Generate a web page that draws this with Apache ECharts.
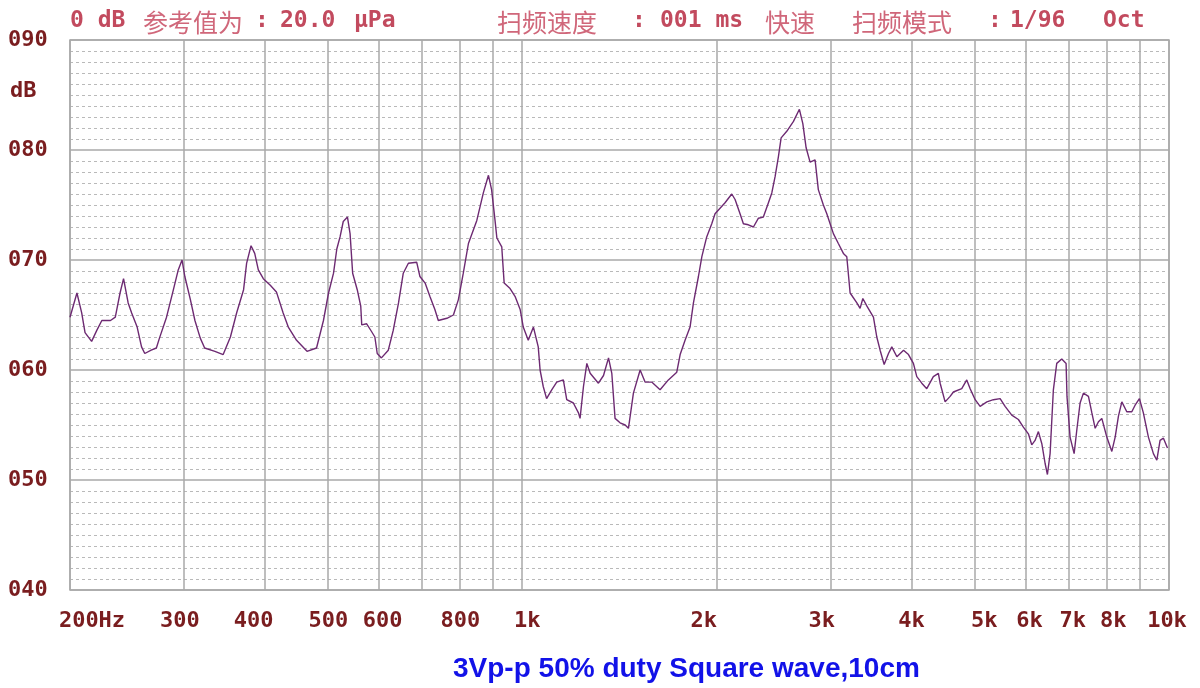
<!DOCTYPE html>
<html><head><meta charset="utf-8">
<script src="https://cdn.jsdelivr.net/npm/echarts@6/dist/echarts.min.js"></script>
<style>html,body{margin:0;padding:0;background:#fff}#c{width:1200px;height:688px}</style>
</head><body><div id="c"></div>
<script>
// ---- data ----
const freqs = [200,205,208.5,211,216,220,224,231,235,239,242,246,249,254,258,261,267,272,275,282,289,294,298,301,307,312,318,323,335,345,354,362,371,375,381,386,391,398,408,417,427,435,448,465,481,493,502,511,517,523,529,537,542,547,556,563,565,575,585,592,597,606,621,632,644,655,667,687,695,708,720,733,742,765,783,797,811,826,851,871,887,897,908,914,930,938,958,975,993,1004,1010,1022,1041,1059,1066,1078,1091,1111,1131,1158,1172,1200,1222,1229,1244,1259,1274,1312,1336,1360,1376,1392,1417,1443,1460,1486,1522,1549,1586,1634,1683,1734,1755,1786,1818,1840,1873,1896,1929,1964,1987,2059,2109,2134,2172,2198,2237,2278,2319,2360,2403,2432,2461,2490,2514,2565,2627,2683,2716,2748,2787,2837,2870,2922,2958,2993,3028,3082,3138,3176,3214,3292,3330,3363,3412,3492,3534,3576,3628,3684,3728,3796,3887,3956,4026,4075,4148,4222,4322,4400,4428,4507,4588,4642,4782,4868,4927,5016,5105,5229,5353,5482,5580,5714,5850,5955,6062,6135,6208,6282,6359,6434,6487,6549,6626,6706,6827,6933,6955,7032,7134,7201,7287,7374,7507,7599,7689,7779,7873,8014,8159,8256,8353,8455,8605,8760,8863,9001,9128,9293,9460,9576,9687,9804,9946];
const levels = [64.8,67.0,65.2,63.4,62.6,63.6,64.5,64.5,64.8,67.0,68.3,66.1,65.2,63.9,62.1,61.5,61.8,62.0,62.9,64.8,67.3,69.1,70.0,68.5,66.4,64.5,62.9,62.0,61.7,61.4,63.0,65.2,67.3,69.7,71.3,70.6,69.1,68.3,67.7,67.1,65.2,63.9,62.7,61.7,62.0,64.5,67.0,68.8,71.0,72.1,73.5,73.9,72.4,68.8,67.3,65.8,64.1,64.2,63.5,63.0,61.5,61.1,61.8,63.6,66.1,68.8,69.7,69.8,68.5,67.9,66.7,65.5,64.5,64.7,65.0,66.4,68.8,71.5,73.6,76.1,77.7,76.4,73.6,72.0,71.2,67.9,67.4,66.7,65.5,63.9,63.9,62.7,63.9,62.1,60.0,58.5,57.4,58.2,58.9,59.1,57.3,57.0,56.1,55.6,58.5,60.6,59.7,58.8,59.5,61.1,59.7,55.6,55.2,55.0,54.7,57.9,60.0,58.9,58.9,58.2,59.1,59.8,61.4,62.7,63.9,66.1,68.5,70.3,72.1,73.3,74.2,75.2,76.0,75.5,74.2,73.3,73.2,73.0,73.8,73.9,75.2,76.1,77.6,79.4,81.1,81.7,82.6,83.7,82.4,80.2,78.9,79.1,76.4,75.0,74.2,73.3,72.4,71.5,70.6,70.3,67.0,66.1,65.6,66.5,65.8,64.8,63.0,61.8,60.5,61.5,62.1,61.2,61.8,61.4,60.6,59.4,58.8,58.3,59.4,59.7,58.8,57.1,57.6,58.0,58.3,59.1,58.3,57.3,56.7,57.1,57.3,57.4,56.7,55.9,55.5,54.8,54.2,53.2,53.6,54.4,53.3,51.5,50.5,52.4,58.2,60.6,61.0,60.6,57.6,53.9,52.4,54.5,57.0,57.9,57.6,56.1,54.7,55.3,55.6,53.9,52.6,53.9,55.8,57.1,56.2,56.2,56.8,57.4,56.1,53.9,52.4,51.8,53.6,53.8,52.9];
const tickFreqs = [200,300,400,500,600,800,1000,2000,3000,4000,5000,6000,7000,8000,10000];
const tickLabels = ['200Hz','300','400','500','600','800','1k','2k','3k','4k','5k','6k','7k','8k','10k'];
const gridFreqs = [300,400,500,600,700,800,900,1000,2000,3000,4000,5000,6000,7000,8000,9000];
const yMin = 40, yMax = 90, yStep = 10;
const yUnit = 'dB';
const headerLeft = [['0 dB','a'],['参考值为','c'],[':','a'],['20.0','a'],['μPa','a']];
const headerRight = [['扫频速度','c'],[':','a'],['001 ms','a'],['快速','c'],['扫频模式','c'],[':','a'],['1/96','a'],['Oct','a']];
const caption = '3Vp-p 50% duty Square wave,10cm';

// ---- layout / style ----
const labelShift = [22,-4,-11,1,4,1,5,-13,-9,0,10,4,4,7,-2];
const headerLeftX = [70,143,255,280,354];
const headerRightX = [497,632,660,765,852,988,1010,1103];
const MONO = '"DejaVu Sans Mono", monospace';
const CJK = '"Noto Sans CJK SC", sans-serif';
const LABEL_COLOR = '#7a1d1f';
const HEAD_A = '#c24a5e', HEAD_C = '#d0677a';
const GRID_COLOR = '#a9a9a9';

const chart = echarts.init(document.getElementById('c'), null, {renderer:'canvas'});

const allLines = Array.from(new Set(gridFreqs.concat(tickFreqs))).sort((a,b)=>a-b);
const markData = allLines.map(f => {
  const i = tickFreqs.indexOf(f);
  const item = [{coord:[f, yMin]}, {coord:[f, yMax]}];
  if (i >= 0) {
    const s = labelShift[i];
    item[0].label = {
      show: true, position: 'start', distance: 20,
      formatter: tickLabels[i],
      padding: s >= 0 ? [0,0,0,2*s] : [0,-2*s,0,0]
    };
  } else {
    item[0].label = {show:false};
  }
  return item;
});

function headerItems(tokens, xs) {
  return tokens.map((t, i) => ({
    type: 'text', left: xs[i], top: 10, silent: true,
    style: {
      text: t[0],
      font: t[1] === 'a' ? ('bold 23px ' + MONO) : ('25px ' + CJK),
      fill: t[1] === 'a' ? HEAD_A : HEAD_C
    }
  }));
}

const option = {
  animation: false,
  backgroundColor: '#ffffff',
  grid: {left: 70, right: 31, top: 40, bottom: 98, show: true, borderColor: GRID_COLOR, borderWidth: 1.5, backgroundColor: 'transparent'},
  xAxis: {
    type: 'log', logBase: 10, min: tickFreqs[0], max: tickFreqs[tickFreqs.length-1],
    axisLine: {show: false}, axisTick: {show: false}, axisLabel: {show: false},
    splitLine: {show: false}, minorSplitLine: {show: false}
  },
  yAxis: {
    type: 'value', min: yMin, max: yMax, interval: yStep,
    axisLine: {show: false}, axisTick: {show: false},
    axisLabel: {
      formatter: v => String(v).padStart(3, '0'),
      fontFamily: MONO, fontWeight: 'bold', fontSize: 22, color: LABEL_COLOR,
      align: 'left', margin: 62
    },
    splitLine: {show: true, lineStyle: {color: GRID_COLOR, width: 1.5}},
    minorTick: {show: false, splitNumber: 10},
    minorSplitLine: {show: true, lineStyle: {color: '#b9b9b9', width: 1, type: [3, 3]}}
  },
  series: [
    {
      name: 'grid', type: 'line', data: [], z: 1, silent: true,
      markLine: {
        silent: true, symbol: ['none','none'], animation: false,
        lineStyle: {color: GRID_COLOR, width: 1.5, type: 'solid'},
        label: {fontFamily: MONO, fontWeight: 'bold', fontSize: 22, color: LABEL_COLOR},
        emphasis: {disabled: true},
        data: markData
      }
    },
    {
      name: 'SPL', type: 'line', z: 5,
      data: freqs.map((f, i) => [f, levels[i]]),
      showSymbol: false, symbol: 'none', smooth: false,
      lineStyle: {color: '#6d2a72', width: 1.4}
    }
  ],
  graphic: [].concat(
    headerItems(headerLeft, headerLeftX),
    headerItems(headerRight, headerRightX),
    [
      {type:'text', left: 10, top: 80, silent: true,
       style: {text: yUnit, font: 'bold 22px ' + MONO, fill: LABEL_COLOR}},
      {type:'text', left: 453, top: 655, silent: true,
       style: {text: caption, font: 'bold 28px "Liberation Sans", Arial, sans-serif', fill: '#1212e8'}}
    ]
  )
};
chart.setOption(option);
</script>
</body></html>
